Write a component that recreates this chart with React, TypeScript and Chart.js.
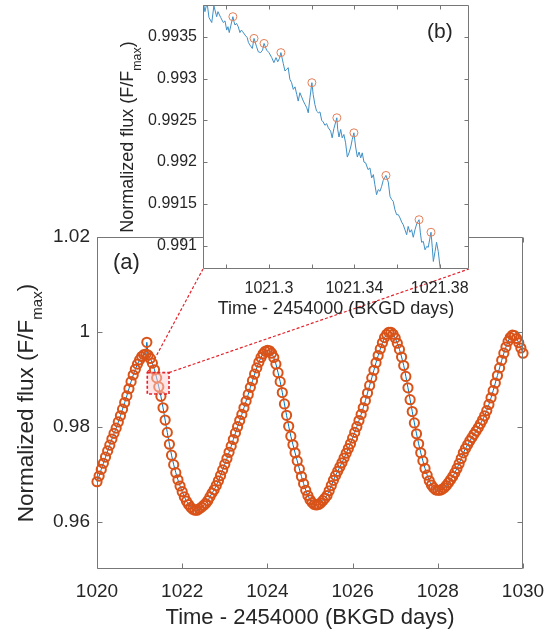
import React, { useEffect, useRef } from 'react';
import { Chart, registerables } from 'chart.js';

Chart.register(...registerables);

// ---------------- data ----------------
const mainTime = [
  1020.00, 1020.05, 1020.10, 1020.15, 1020.20, 1020.25, 1020.30, 1020.35, 1020.40, 1020.45,
  1020.50, 1020.55, 1020.60, 1020.65, 1020.70, 1020.75, 1020.80, 1020.85, 1020.90, 1020.95,
  1021.00, 1021.05, 1021.10, 1021.15, 1021.17, 1021.20, 1021.25, 1021.30, 1021.35, 1021.40, 1021.45,
  1021.50, 1021.55, 1021.60, 1021.65, 1021.70, 1021.75, 1021.80, 1021.85, 1021.90, 1021.95,
  1022.00, 1022.05, 1022.10, 1022.15, 1022.20, 1022.25, 1022.30, 1022.35, 1022.40, 1022.45,
  1022.50, 1022.55, 1022.60, 1022.65, 1022.70, 1022.75, 1022.80, 1022.85, 1022.90, 1022.95,
  1023.00, 1023.05, 1023.10, 1023.15, 1023.20, 1023.25, 1023.30, 1023.35, 1023.40, 1023.45,
  1023.50, 1023.55, 1023.60, 1023.65, 1023.70, 1023.75, 1023.80, 1023.85, 1023.90, 1023.95,
  1024.00, 1024.05, 1024.10, 1024.15, 1024.20, 1024.25, 1024.30, 1024.35, 1024.40, 1024.45,
  1024.50, 1024.55, 1024.60, 1024.65, 1024.70, 1024.75, 1024.80, 1024.85, 1024.90, 1024.95,
  1025.00, 1025.05, 1025.10, 1025.15, 1025.20, 1025.25, 1025.30, 1025.35, 1025.40, 1025.45,
  1025.50, 1025.55, 1025.60, 1025.65, 1025.70, 1025.75, 1025.80, 1025.85, 1025.90, 1025.95,
  1026.00, 1026.05, 1026.10, 1026.15, 1026.20, 1026.25, 1026.30, 1026.35, 1026.40, 1026.45,
  1026.50, 1026.55, 1026.60, 1026.65, 1026.70, 1026.75, 1026.80, 1026.85, 1026.90, 1026.95,
  1027.00, 1027.05, 1027.10, 1027.15, 1027.20, 1027.25, 1027.30, 1027.35, 1027.40, 1027.45,
  1027.50, 1027.55, 1027.60, 1027.65, 1027.70, 1027.75, 1027.80, 1027.85, 1027.90, 1027.95,
  1028.00, 1028.05, 1028.10, 1028.15, 1028.20, 1028.25, 1028.30, 1028.35, 1028.40, 1028.45,
  1028.50, 1028.55, 1028.60, 1028.65, 1028.70, 1028.75, 1028.80, 1028.85, 1028.90, 1028.95,
  1029.00, 1029.05, 1029.10, 1029.15, 1029.20, 1029.25, 1029.30, 1029.35, 1029.40, 1029.45,
  1029.50, 1029.55, 1029.60, 1029.65, 1029.70, 1029.75, 1029.80, 1029.85, 1029.90, 1029.95,
  1030.00,
];

const mainFlux = [
  0.9684, 0.9696, 0.9710, 0.9723, 0.9736, 0.9749, 0.9761, 0.9774, 0.9786, 0.9797,
  0.9810, 0.9823, 0.9837, 0.9851, 0.9865, 0.9880, 0.9895, 0.9909, 0.9921, 0.9932,
  0.9941, 0.9948, 0.9952, 0.9953, 0.9978, 0.9951, 0.9944, 0.9934, 0.9920, 0.9903, 0.9884,
  0.9864, 0.9840, 0.9814, 0.9788, 0.9763, 0.9740, 0.9720, 0.9703, 0.9688, 0.9675,
  0.9663, 0.9652, 0.9643, 0.9636, 0.9630, 0.9626, 0.9624, 0.9624, 0.9627, 0.9630,
  0.9634, 0.9638, 0.9644, 0.9652, 0.9660, 0.9667, 0.9676, 0.9686, 0.9697, 0.9709,
  0.9721, 0.9733, 0.9746, 0.9759, 0.9773, 0.9787, 0.9800, 0.9813, 0.9826, 0.9840,
  0.9854, 0.9868, 0.9883, 0.9897, 0.9911, 0.9924, 0.9936, 0.9946, 0.9954, 0.9959,
  0.9961, 0.9960, 0.9955, 0.9946, 0.9932, 0.9914, 0.9895, 0.9872, 0.9848, 0.9824,
  0.9801, 0.9780, 0.9762, 0.9745, 0.9728, 0.9711, 0.9695, 0.9680, 0.9666, 0.9655,
  0.9646, 0.9640, 0.9636, 0.9635, 0.9636, 0.9639, 0.9644, 0.9649, 0.9655, 0.9665,
  0.9676, 0.9687, 0.9697, 0.9706, 0.9715, 0.9724, 0.9734, 0.9744, 0.9754, 0.9764,
  0.9776, 0.9788, 0.9800, 0.9813, 0.9826, 0.9840, 0.9855, 0.9871, 0.9887, 0.9903,
  0.9919, 0.9935, 0.9950, 0.9964, 0.9977, 0.9988, 0.9995, 0.9999, 0.9999, 0.9995,
  0.9987, 0.9976, 0.9963, 0.9947, 0.9929, 0.9906, 0.9882, 0.9857, 0.9832, 0.9808,
  0.9785, 0.9764, 0.9745, 0.9728, 0.9712, 0.9698, 0.9686, 0.9677, 0.9671, 0.9667,
  0.9666, 0.9666, 0.9668, 0.9671, 0.9676, 0.9682, 0.9688, 0.9695, 0.9703, 0.9712,
  0.9722, 0.9733, 0.9745, 0.9754, 0.9762, 0.9770, 0.9777, 0.9784, 0.9791, 0.9798,
  0.9806, 0.9814, 0.9823, 0.9834, 0.9847, 0.9861, 0.9876, 0.9892, 0.9908, 0.9924,
  0.9940, 0.9955, 0.9968, 0.9980, 0.9988, 0.9993, 0.9992, 0.9986, 0.9977, 0.9966,
  0.9955,
];

const mainXTicks = [1020, 1022, 1024, 1026, 1028, 1030];
const mainXTickLabels = ['1020', '1022', '1024', '1026', '1028', '1030'];
const mainYTicks = [0.96, 0.98, 1, 1.02];
const mainYTickLabels = ['0.96', '0.98', '1', '1.02'];

const insetTime = [
  1021.2691, 1021.2700, 1021.2710, 1021.2719, 1021.2732, 1021.2742, 1021.2755, 1021.2761, 1021.2774, 1021.2786,
  1021.2794, 1021.2802, 1021.2808, 1021.2814, 1021.2822, 1021.2831, 1021.2836, 1021.2841, 1021.2848, 1021.2856,
  1021.2864, 1021.2871, 1021.2877, 1021.2888, 1021.2898, 1021.2904, 1021.2911, 1021.2922, 1021.2930, 1021.2942,
  1021.2950, 1021.2961, 1021.2970, 1021.2977, 1021.2989, 1021.3000, 1021.3013, 1021.3023, 1021.3033, 1021.3041,
  1021.3049, 1021.3056, 1021.3067, 1021.3075, 1021.3083, 1021.3090, 1021.3098, 1021.3106, 1021.3114, 1021.3122,
  1021.3130, 1021.3137, 1021.3145, 1021.3153, 1021.3161, 1021.3169, 1021.3177, 1021.3184, 1021.3192, 1021.3201,
  1021.3207, 1021.3215, 1021.3223, 1021.3231, 1021.3239, 1021.3247, 1021.3254, 1021.3262, 1021.3270, 1021.3278,
  1021.3289, 1021.3296, 1021.3304, 1021.3318, 1021.3322, 1021.3328, 1021.3336, 1021.3343, 1021.3351, 1021.3359,
  1021.3367, 1021.3375, 1021.3383, 1021.3390, 1021.3398, 1021.3406, 1021.3414, 1021.3422, 1021.3430, 1021.3437,
  1021.3445, 1021.3453, 1021.3464, 1021.3473, 1021.3481, 1021.3489, 1021.3496, 1021.3504, 1021.3512, 1021.3520,
  1021.3528, 1021.3535, 1021.3548, 1021.3559, 1021.3567, 1021.3575, 1021.3582, 1021.3590, 1021.3598, 1021.3606,
  1021.3614, 1021.3622, 1021.3629, 1021.3637, 1021.3645, 1021.3652, 1021.3660, 1021.3668, 1021.3676, 1021.3684,
  1021.3692, 1021.3703, 1021.3709, 1021.3715, 1021.3723, 1021.3731, 1021.3739, 1021.3746, 1021.3759, 1021.3765,
  1021.3770, 1021.3778, 1021.3785, 1021.3793, 1021.3801, 1021.3808,
];

const insetFlux = [
  0.99394, 0.99380, 0.99391, 0.99373, 0.99367, 0.99387, 0.99374, 0.99380, 0.99373, 0.99367,
  0.99369, 0.99358, 0.99362, 0.99355, 0.99364, 0.99374, 0.99368, 0.99364, 0.99366, 0.99362,
  0.99355, 0.99358, 0.99356, 0.99352, 0.99349, 0.99343, 0.99340, 0.99336, 0.99348, 0.99338,
  0.99332, 0.99331, 0.99334, 0.99342, 0.99334, 0.99331, 0.99325, 0.99319, 0.99325, 0.99320,
  0.99324, 0.99331, 0.99318, 0.99309, 0.99311, 0.99313, 0.99299, 0.99295, 0.99287, 0.99290,
  0.99281, 0.99273, 0.99283, 0.99278, 0.99273, 0.99269, 0.99265, 0.99259, 0.99277, 0.99295,
  0.99281, 0.99269, 0.99261, 0.99259, 0.99260, 0.99250, 0.99248, 0.99244, 0.99246, 0.99241,
  0.99237, 0.99229, 0.99240, 0.99253, 0.99239, 0.99230, 0.99239, 0.99229, 0.99233, 0.99223,
  0.99206, 0.99211, 0.99218, 0.99227, 0.99235, 0.99218, 0.99206, 0.99212, 0.99205, 0.99211,
  0.99200, 0.99199, 0.99191, 0.99193, 0.99181, 0.99185, 0.99173, 0.99161, 0.99167, 0.99165,
  0.99171, 0.99178, 0.99184, 0.99176, 0.99159, 0.99155, 0.99153, 0.99143, 0.99137, 0.99137,
  0.99133, 0.99128, 0.99125, 0.99119, 0.99113, 0.99123, 0.99116, 0.99119, 0.99110, 0.99119,
  0.99126, 0.99131, 0.99116, 0.99104, 0.99105, 0.99095, 0.99099, 0.99098, 0.99116, 0.99098,
  0.99081, 0.99093, 0.99104, 0.99093, 0.99075, 0.99065,
];

const peakTime = [1021.2831, 1021.2930, 1021.2977, 1021.3056, 1021.3201, 1021.3318, 1021.3398, 1021.3548, 1021.3703, 1021.3759];
const peakFlux = [0.99374, 0.99348, 0.99342, 0.99331, 0.99295, 0.99253, 0.99235, 0.99184, 0.99131, 0.99116];

const insetXTicks = [1021.28, 1021.3, 1021.32, 1021.34, 1021.36, 1021.38];
const insetXTickLabels = ['', '1021.3', '', '1021.34', '', '1021.38'];
const insetYTicks = [0.991, 0.9915, 0.992, 0.9925, 0.993, 0.9935];
const insetYTickLabels = ['0.991', '0.9915', '0.992', '0.9925', '0.993', '0.9935'];

const zoomBoxX = [1021.18, 1021.69];
const zoomBoxY = [0.9869, 0.9914];

// ---------------- styling helpers ----------------
const FONT = "'Liberation Sans', Arial, Helvetica, sans-serif";
const TEXT = '#262626';
const AXIS = '#777777';

function zeroPad(s: any) {
  s.paddingLeft = 0;
  s.paddingRight = 0;
  s.paddingTop = 0;
  s.paddingBottom = 0;
}

function drawFrame(chart: any, xTicks: number[], yTicks: number[], len: number) {
  const { ctx, chartArea: a, scales } = chart;
  ctx.save();
  ctx.strokeStyle = AXIS;
  ctx.lineWidth = 1;
  ctx.setLineDash([]);
  const L = Math.round(a.left) + 0.5;
  const R = Math.round(a.right) - 0.5;
  const T = Math.round(a.top) + 0.5;
  const B = Math.round(a.bottom) - 0.5;
  ctx.beginPath();
  ctx.rect(L, T, R - L, B - T);
  for (const v of xTicks) {
    const px = Math.round(scales.x.getPixelForValue(v)) + 0.5;
    ctx.moveTo(px, B);
    ctx.lineTo(px, B - len);
    ctx.moveTo(px, T);
    ctx.lineTo(px, T + len);
  }
  for (const v of yTicks) {
    const py = Math.round(scales.y.getPixelForValue(v)) + 0.5;
    ctx.moveTo(L, py);
    ctx.lineTo(L + len, py);
    ctx.moveTo(R, py);
    ctx.lineTo(R - len, py);
  }
  ctx.stroke();
  ctx.restore();
}

function drawYTitle(ctx: any, xBase: number, yCenter: number, size: number, subSize: number, subOff: number) {
  const p1 = 'Normalized flux (F/F';
  const p2 = 'max';
  const p3 = ')';
  ctx.save();
  ctx.fillStyle = TEXT;
  ctx.textBaseline = 'alphabetic';
  ctx.textAlign = 'left';
  ctx.font = `${size}px ${FONT}`;
  const w1 = ctx.measureText(p1).width;
  const w3 = ctx.measureText(p3).width;
  ctx.font = `${subSize}px ${FONT}`;
  const w2 = ctx.measureText(p2).width;
  const total = w1 + w2 + w3;
  ctx.translate(xBase, yCenter);
  ctx.rotate(-Math.PI / 2);
  const x0 = -total / 2;
  ctx.font = `${size}px ${FONT}`;
  ctx.fillText(p1, x0, 0);
  ctx.font = `${subSize}px ${FONT}`;
  ctx.fillText(p2, x0 + w1, subOff);
  ctx.font = `${size}px ${FONT}`;
  ctx.fillText(p3, x0 + w1 + w2, 0);
  ctx.restore();
}

function drawText(ctx: any, txt: string, x: number, y: number, size: number, align: string) {
  ctx.save();
  ctx.fillStyle = TEXT;
  ctx.font = `${size}px ${FONT}`;
  ctx.textAlign = align;
  ctx.textBaseline = 'middle';
  ctx.fillText(txt, x, y);
  ctx.restore();
}

export default function App() {
  const mainRef = useRef<HTMLCanvasElement>(null);
  const insetRef = useRef<HTMLCanvasElement>(null);

  useEffect(() => {
    const insetPlugin = {
      id: 'insetDecor',
      beforeDraw(chart: any) {
        const { ctx, chartArea: a } = chart;
        ctx.save();
        ctx.fillStyle = '#ffffff';
        ctx.fillRect(a.left, a.top, a.right - a.left, a.bottom - a.top);
        ctx.restore();
      },
      afterDraw(chart: any) {
        const { ctx, chartArea: a } = chart;
        drawFrame(chart, insetXTicks, insetYTicks, 4);
        drawText(ctx, 'Time - 2454000 (BKGD days)', (a.left + a.right) / 2, 309, 18, 'center');
        drawYTitle(ctx, 133, (a.top + a.bottom) / 2, 18, 12.5, 8);
        drawText(ctx, '(b)', 427, 32, 21, 'left');
      },
    };

    const inset = new Chart(insetRef.current as HTMLCanvasElement, {
      type: 'line',
      data: {
        datasets: [
          {
            data: peakTime.map((t, i) => ({ x: t, y: peakFlux[i] })),
            showLine: false,
            pointRadius: 4,
            pointBorderColor: '#e3805a',
            pointBackgroundColor: 'rgba(255,255,255,0)',
            pointBorderWidth: 1,
            clip: false,
          } as any,
          {
            data: insetTime.map((t, i) => ({ x: t, y: insetFlux[i] })),
            borderColor: '#3f90c6',
            borderWidth: 1,
            pointRadius: 0,
            tension: 0,
            clip: 0,
          } as any,
        ],
      },
      options: {
        responsive: false,
        animation: false,
        events: [],
        layout: { padding: { left: 0, right: 89, top: 5, bottom: 0 } },
        plugins: { legend: { display: false }, tooltip: { enabled: false } },
        scales: {
          x: {
            type: 'linear',
            min: 1021.2691,
            max: 1021.3937,
            afterBuildTicks: (s: any) => { s.ticks = insetXTicks.map((v) => ({ value: v })); },
            afterFit: (s: any) => { s.height = 368; zeroPad(s); },
            grid: { display: false, drawTicks: false },
            border: { display: false },
            ticks: {
              autoSkip: false,
              maxRotation: 0,
              padding: 10,
              color: TEXT,
              font: { family: FONT, size: 16 },
              callback: (_v: any, i: number) => insetXTickLabels[i],
            },
          },
          y: {
            type: 'linear',
            min: 0.99072,
            max: 0.99388,
            afterBuildTicks: (s: any) => { s.ticks = insetYTicks.map((v) => ({ value: v })); },
            afterFit: (s: any) => { s.width = 203; zeroPad(s); },
            grid: { display: false, drawTicks: false },
            border: { display: false },
            ticks: {
              autoSkip: false,
              padding: 6,
              color: TEXT,
              font: { family: FONT, size: 16 },
              callback: (_v: any, i: number) => insetYTickLabels[i],
            },
          },
        },
      } as any,
      plugins: [insetPlugin],
    });

    const mainPlugin = {
      id: 'mainDecor',
      beforeDatasetsDraw(chart: any) {
        const { ctx, scales } = chart;
        const x1 = scales.x.getPixelForValue(zoomBoxX[0]);
        const x2 = scales.x.getPixelForValue(zoomBoxX[1]);
        const yT = scales.y.getPixelForValue(zoomBoxY[1]);
        const ia = inset.chartArea;
        ctx.save();
        ctx.strokeStyle = '#e3222b';
        ctx.lineWidth = 1.2;
        ctx.setLineDash([3, 2]);
        ctx.beginPath();
        ctx.moveTo(x1, yT);
        ctx.lineTo(ia.left, ia.bottom);
        ctx.moveTo(x2, yT);
        ctx.lineTo(ia.right, ia.bottom);
        ctx.stroke();
        ctx.restore();
      },
      afterDatasetsDraw(chart: any) {
        const { ctx, scales } = chart;
        const x1 = scales.x.getPixelForValue(zoomBoxX[0]);
        const x2 = scales.x.getPixelForValue(zoomBoxX[1]);
        const yT = scales.y.getPixelForValue(zoomBoxY[1]);
        const yB = scales.y.getPixelForValue(zoomBoxY[0]);
        ctx.save();
        ctx.fillStyle = 'rgba(255,205,205,0.5)';
        ctx.fillRect(x1, yT, x2 - x1, yB - yT);
        ctx.strokeStyle = '#e3222b';
        ctx.lineWidth = 1.6;
        ctx.setLineDash([3, 2]);
        ctx.strokeRect(x1, yT, x2 - x1, yB - yT);
        ctx.restore();
      },
      afterDraw(chart: any) {
        const { ctx, chartArea: a } = chart;
        drawFrame(chart, mainXTicks, mainYTicks, 5);
        drawText(ctx, 'Time - 2454000 (BKGD days)', (a.left + a.right) / 2, 618, 22, 'center');
        drawYTitle(ctx, 33, (a.top + a.bottom) / 2, 22.5, 15, 9);
        drawText(ctx, '(a)', 113, 263, 22, 'left');
      },
    };

    const main = new Chart(mainRef.current as HTMLCanvasElement, {
      type: 'line',
      data: {
        datasets: [
          {
            data: mainTime.map((t, i) => ({ x: t, y: mainFlux[i] })),
            borderColor: '#0072BD',
            borderWidth: 1,
            pointRadius: 4.6,
            pointBorderColor: '#D95319',
            pointBackgroundColor: 'rgba(255,255,255,0)',
            pointBorderWidth: 2,
            tension: 0,
            clip: false,
          } as any,
        ],
      },
      options: {
        responsive: false,
        animation: false,
        events: [],
        layout: { padding: { left: 0, right: 35, top: 237, bottom: 0 } },
        plugins: { legend: { display: false }, tooltip: { enabled: false } },
        scales: {
          x: {
            type: 'linear',
            min: 1020,
            max: 1030,
            afterBuildTicks: (s: any) => { s.ticks = mainXTicks.map((v) => ({ value: v })); },
            afterFit: (s: any) => { s.height = 68; zeroPad(s); },
            grid: { display: false, drawTicks: false },
            border: { display: false },
            ticks: {
              autoSkip: false,
              maxRotation: 0,
              padding: 11,
              color: TEXT,
              font: { family: FONT, size: 19 },
              callback: (_v: any, i: number) => mainXTickLabels[i],
            },
          },
          y: {
            type: 'linear',
            min: 0.95,
            max: 1.02,
            afterBuildTicks: (s: any) => { s.ticks = mainYTicks.map((v) => ({ value: v })); },
            afterFit: (s: any) => { s.width = 97; zeroPad(s); },
            grid: { display: false, drawTicks: false },
            border: { display: false },
            ticks: {
              autoSkip: false,
              padding: 7,
              color: TEXT,
              font: { family: FONT, size: 19 },
              callback: (_v: any, i: number) => mainYTickLabels[i],
            },
          },
        },
      } as any,
      plugins: [mainPlugin],
    });

    return () => {
      main.destroy();
      inset.destroy();
    };
  }, []);

  return (
    <div style={{ position: 'fixed', left: 0, top: 0, width: 558, height: 637, background: '#ffffff' }}>
      <canvas ref={mainRef} width={558} height={637} style={{ position: 'absolute', left: 0, top: 0 }} />
      <canvas ref={insetRef} width={558} height={637} style={{ position: 'absolute', left: 0, top: 0 }} />
    </div>
  );
}
